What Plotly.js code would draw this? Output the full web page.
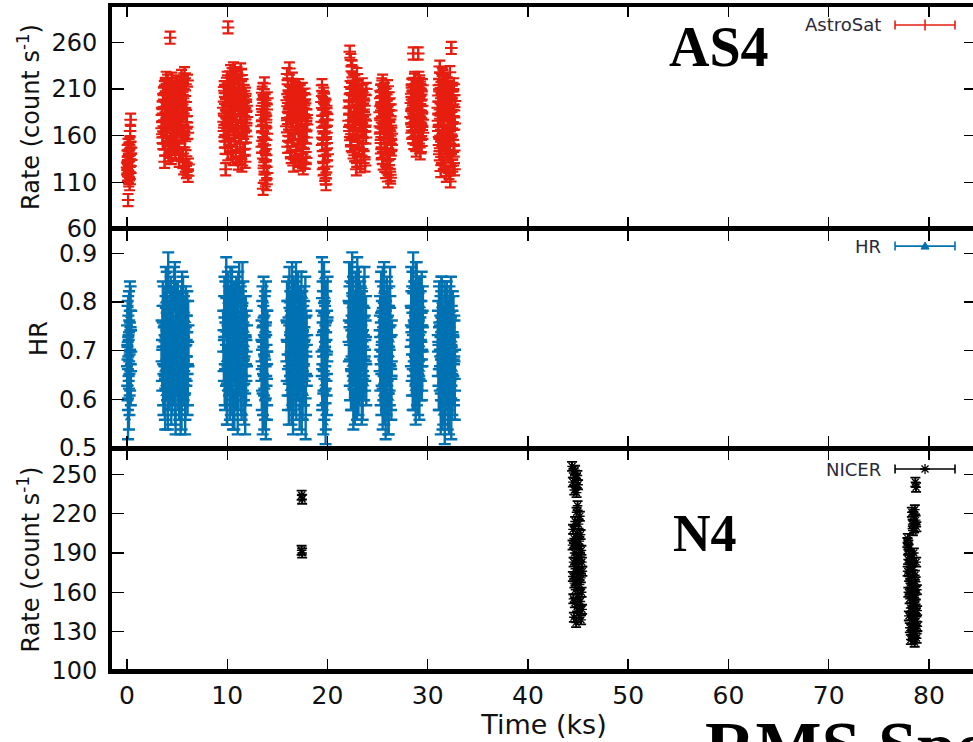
<!DOCTYPE html>
<html>
<head>
<meta charset="utf-8">
<script src="https://cdn.plot.ly/plotly-3.0.1.min.js"></script>
<style>html,body{margin:0;padding:0;overflow:hidden;background:#fff}#chart{width:1000px;height:742px}</style>
</head>
<body>
<div id="chart"></div>
<script>
// ---------------- DATA ----------------
// AstroSat light curve: time (ks), rate (count/s) and hardness ratio (two interleaved passes of bins)
const asTime = [
  0.00,0.04,0.07,0.10,0.13,0.17,0.20,0.24,0.27,0.31,0.36,0.40,
  3.45,3.51,3.57,3.63,3.69, 3.75,3.81,3.87,3.93,3.99, 4.05,4.11,4.17,4.23,4.30, 4.36,4.42,4.48,4.54,4.60,
  4.66,4.72,4.78,4.84,4.90, 4.96,5.02,5.08,5.14,5.20, 5.26,5.32,5.38,5.44,5.50, 5.56,5.62,5.68,5.74,5.80,
  5.86,5.92,5.98,6.04,6.10,
  9.60,9.66,9.72,9.78,9.84, 9.90,9.96,10.02,10.08,10.14, 10.20,10.26,10.32,10.38,10.44, 10.50,10.56,10.62,10.68,10.74,
  10.80,10.86,10.92,10.98,11.04, 11.10,11.16,11.22,11.28,11.34, 11.40,11.46,11.52,11.58,11.64, 11.70,11.76,11.82,11.88,11.94,
  13.40,13.44,13.49,13.53,13.58,13.62,13.67,13.71,13.76,13.80,13.85,13.89,13.94,13.98,
  15.90,15.96,16.02,16.08,16.14, 16.20,16.26,16.32,16.38,16.44, 16.50,16.56,16.62,16.68,16.74, 16.80,16.86,16.92,16.98,17.04,
  17.10,17.16,17.22,17.28,17.34, 17.40,17.46,17.52,17.58,17.64, 17.70,17.76,17.82,17.88,17.94,
  19.40,19.45,19.49,19.54,19.58,19.63,19.67,19.72,19.76,19.81,19.85,19.90,19.94,19.99,
  22.10,22.16,22.22,22.28,22.34, 22.40,22.46,22.52,22.58,22.64, 22.70,22.76,22.82,22.88,22.94,
  23.00,23.06,23.12,23.18,23.24, 23.30,23.36,23.42,23.48,23.54, 23.60,23.66,23.72,23.78,23.84,
  25.20,25.25,25.30,25.35,25.40, 25.45,25.50,25.55,25.60,25.65, 25.70,25.75,25.80,25.85,25.90,
  25.95,26.00,26.05,26.10,26.15, 26.20,26.25,26.30,26.35,26.40,
  28.30,28.35,28.40,28.45,28.50, 28.55,28.60,28.65,28.70,28.75, 28.80,28.85,28.90,28.95,29.00,
  29.05,29.10,29.15,29.20,29.25, 29.30,29.35,29.40,29.45,29.50,
  31.00,31.05,31.10,31.15,31.20, 31.25,31.30,31.35,31.40,31.45, 31.50,31.55,31.60,31.65,31.70,
  31.75,31.80,31.85,31.90,31.95, 32.00,32.05,32.10,32.15,32.20, 32.25,32.30,32.35,32.40,32.45,
  32.50,32.55,32.60,32.65,32.70,
  // second pass
  0.02,0.05,0.09,0.12,0.15,0.19,0.22,0.26,0.29,0.33,0.38,0.42,
  3.48,3.54,3.60,3.66,3.72, 3.78,3.84,3.90,3.96,4.02, 4.08,4.14,4.20,4.26,4.33, 4.39,4.45,4.51,4.57,4.63,
  4.69,4.75,4.81,4.87,4.93, 4.99,5.05,5.11,5.17,5.23, 5.29,5.35,5.41,5.47,5.53, 5.59,5.65,5.71,5.77,5.83,
  5.89,5.95,6.01,6.07,6.13,
  9.63,9.69,9.75,9.81,9.87, 9.93,9.99,10.05,10.11,10.17, 10.23,10.29,10.35,10.41,10.47, 10.53,10.59,10.65,10.71,10.77,
  10.83,10.89,10.95,11.01,11.07, 11.13,11.19,11.25,11.31,11.37, 11.43,11.49,11.55,11.61,11.67, 11.73,11.79,11.85,11.91,11.97,
  13.42,13.47,13.51,13.56,13.60,13.65,13.69,13.74,13.78,13.83,13.87,13.92,13.96,14.00,
  15.93,15.99,16.05,16.11,16.17, 16.23,16.29,16.35,16.41,16.47, 16.53,16.59,16.65,16.71,16.77, 16.83,16.89,16.95,17.01,17.07,
  17.13,17.19,17.25,17.31,17.37, 17.43,17.49,17.55,17.61,17.67, 17.73,17.79,17.85,17.91,17.97,
  19.42,19.47,19.51,19.56,19.60,19.65,19.69,19.74,19.78,19.83,19.87,19.92,19.96,20.01,
  22.13,22.19,22.25,22.31,22.37, 22.43,22.49,22.55,22.61,22.67, 22.73,22.79,22.85,22.91,22.97,
  23.03,23.09,23.15,23.21,23.27, 23.33,23.39,23.45,23.51,23.57, 23.63,23.69,23.75,23.81,23.87,
  25.22,25.27,25.32,25.37,25.42, 25.47,25.52,25.57,25.62,25.67, 25.72,25.77,25.82,25.87,25.92,
  25.97,26.02,26.07,26.12,26.17, 26.22,26.27,26.32,26.37,26.42,
  28.32,28.37,28.42,28.47,28.52, 28.57,28.62,28.67,28.72,28.77, 28.82,28.87,28.92,28.97,29.02,
  29.07,29.12,29.17,29.22,29.27, 29.32,29.37,29.42,29.47,29.52,
  31.02,31.07,31.12,31.17,31.22, 31.27,31.32,31.37,31.42,31.47, 31.52,31.57,31.62,31.67,31.72,
  31.77,31.82,31.87,31.92,31.97, 32.02,32.07,32.12,32.17,32.22, 32.27,32.32,32.37,32.42,32.47,
  32.52,32.57,32.62,32.67,32.72
];
const asRate = [
  126,118,144,91,134,112,150,121,139,165,177,147,
  168,190,152,205,176, 132,214,185,160,198, 219,172,148,207,265, 188,136,221,163,195,
  178,212,155,200,183, 146,216,169,192,133, 205,177,158,224,186, 141,210,165,227,128,
  196,121,174,219,117,
  190,165,208,147,124, 199,178,218,276,157, 203,186,229,142,211, 172,195,232,160,183,
  215,138,200,227,168, 130,209,187,152,231, 176,128,198,214,163, 188,146,205,171,192,
  182,148,206,165,103,195,128,216,156,112,174,139,188,120,
  170,226,148,195,184, 232,159,206,137,190, 221,176,128,200,163, 211,145,186,170,203,
  133,193,156,208,178, 141,197,166,125,189, 152,204,173,136,182,
  196,214,158,181,132,205,170,118,190,145,108,163,127,177,
  176,198,250,155,241, 210,234,168,219,186, 139,202,175,124,226,
  160,193,147,208,181, 131,199,166,215,152, 188,137,204,171,158,
  185,162,208,141,196, 174,219,130,190,157, 205,168,121,199,182,
  146,213,111,176,193, 135,160,115,187,150,
  180,205,163,215,190, 248,152,200,222,171, 195,144,210,183,160,
  248,199,175,218,141, 187,204,166,192,177,
  190,165,214,140,234, 178,122,200,155,226, 186,131,208,170,147,
  219,193,117,161,205, 176,138,212,184,150, 111,197,254,168,207,
  128,181,215,144,173,
  // second pass
  131,123,150,138,116,145,128,108,153,120,141,134,
  182,158,197,170,212, 145,189,222,166,203, 178,139,194,215,157, 201,174,150,210,186,
  168,198,141,218,176, 160,207,188,147,196, 172,213,139,184,162, 200,125,190,154,215,
  138,181,124,163,129,
  175,212,154,194,180, 161,222,140,206,187, 170,215,150,198,226, 181,135,210,190,164,
  223,176,148,205,193, 218,158,183,136,201, 225,167,191,145,208, 174,132,196,159,180,
  170,192,142,210,158,125,185,150,198,134,177,108,162,200,
  198,179,215,160,207, 186,142,199,173,212, 155,194,181,208,138, 190,169,201,150,184,
  214,162,188,129,197, 176,210,147,183,165, 199,131,188,158,172,
  175,150,208,124,188,162,200,138,171,114,192,152,183,140,
  190,165,212,183,150, 229,197,142,206,174, 218,160,191,133,203,
  178,214,155,196,127, 187,209,145,180,200, 164,192,128,176,210,
  170,200,152,187,215, 136,179,195,163,210, 145,186,172,204,126,
  191,158,168,140,200, 181,118,171,145,162,
  195,172,214,186,158, 207,181,220,166,199, 150,212,189,170,205,
  180,222,158,194,174, 209,149,185,214,163,
  176,203,150,221,188, 160,211,137,195,170, 224,152,199,182,128,
  207,163,190,143,216, 172,198,120,186,228, 158,203,134,192,166,
  210,149,187,124,197
];
const asHR = [
  0.71,0.64,0.76,0.56,0.73,0.68,0.78,0.61,0.74,0.66,0.79,0.70,
  0.72,0.66,0.80,0.61,0.75, 0.69,0.58,0.83,0.70,0.64, 0.77,0.86,0.62,0.73,0.68, 0.81,0.59,0.74,0.67,0.79,
  0.63,0.71,0.84,0.57,0.76, 0.69,0.65,0.80,0.72,0.60, 0.78,0.66,0.74,0.58,0.82, 0.69,0.63,0.77,0.71,0.57,
  0.79,0.67,0.73,0.61,0.76,
  0.74,0.68,0.81,0.62,0.77, 0.85,0.59,0.71,0.66,0.79, 0.73,0.60,0.83,0.69,0.64, 0.76,0.58,0.72,0.80,0.67,
  0.74,0.62,0.78,0.70,0.57, 0.82,0.65,0.73,0.68,0.79, 0.61,0.75,0.84,0.66,0.71, 0.59,0.77,0.69,0.63,0.74,
  0.68,0.62,0.76,0.57,0.71,0.81,0.65,0.73,0.60,0.78,0.56,0.69,0.74,0.63,
  0.72,0.80,0.65,0.76,0.59, 0.83,0.69,0.74,0.62,0.78, 0.70,0.57,0.81,0.67,0.75, 0.61,0.84,0.71,0.64,0.79,
  0.68,0.73,0.58,0.77,0.66, 0.82,0.70,0.60,0.75,0.63, 0.79,0.69,0.56,0.74,0.67,
  0.74,0.85,0.63,0.78,0.57,0.70,0.82,0.66,0.75,0.55,0.80,0.68,0.61,0.72,
  0.76,0.84,0.67,0.80,0.62, 0.73,0.86,0.69,0.58,0.78, 0.71,0.65,0.82,0.74,0.60,
  0.77,0.68,0.83,0.63,0.72, 0.79,0.66,0.59,0.75,0.70, 0.81,0.64,0.73,0.68,0.77,
  0.70,0.77,0.63,0.82,0.67, 0.74,0.58,0.79,0.69,0.84, 0.65,0.72,0.56,0.76,0.61,
  0.80,0.68,0.73,0.57,0.75, 0.66,0.83,0.71,0.62,0.69,
  0.75,0.83,0.68,0.79,0.62, 0.86,0.72,0.65,0.80,0.70, 0.59,0.77,0.84,0.67,0.73,
  0.61,0.81,0.69,0.76,0.64, 0.78,0.71,0.82,0.66,0.74,
  0.69,0.76,0.62,0.80,0.66, 0.73,0.57,0.78,0.81,0.64, 0.71,0.59,0.75,0.68,0.55,
  0.79,0.63,0.72,0.80,0.67, 0.58,0.74,0.70,0.62,0.77, 0.66,0.72,0.56,0.75,0.61,
  0.78,0.69,0.64,0.73,0.60,
  // second pass
  0.67,0.75,0.62,0.77,0.69,0.58,0.72,0.65,0.80,0.70,0.63,0.74,
  0.68,0.75,0.63,0.79,0.71, 0.60,0.77,0.66,0.82,0.73, 0.58,0.70,0.76,0.64,0.80, 0.69,0.74,0.61,0.78,0.67,
  0.83,0.72,0.59,0.75,0.65, 0.80,0.70,0.62,0.77,0.68, 0.74,0.57,0.79,0.66,0.72, 0.81,0.64,0.70,0.76,0.60,
  0.73,0.68,0.78,0.63,0.71,
  0.70,0.77,0.63,0.80,0.67, 0.74,0.59,0.82,0.71,0.65, 0.78,0.69,0.61,0.75,0.83, 0.66,0.72,0.79,0.58,0.73,
  0.68,0.81,0.64,0.76,0.70, 0.62,0.84,0.72,0.67,0.78, 0.60,0.75,0.69,0.80,0.64, 0.73,0.57,0.77,0.68,0.71,
  0.72,0.66,0.79,0.61,0.75,0.69,0.58,0.77,0.64,0.71,0.80,0.67,0.60,0.74,
  0.68,0.76,0.62,0.81,0.71, 0.65,0.78,0.73,0.59,0.84, 0.70,0.63,0.77,0.67,0.80, 0.72,0.60,0.75,0.69,0.82,
  0.64,0.74,0.79,0.66,0.71, 0.57,0.78,0.70,0.63,0.76, 0.68,0.81,0.61,0.73,0.69,
  0.69,0.62,0.80,0.73,0.66,0.84,0.60,0.76,0.71,0.58,0.78,0.65,0.74,0.81,
  0.72,0.79,0.64,0.84,0.70, 0.62,0.77,0.81,0.67,0.74, 0.59,0.78,0.70,0.65,0.85,
  0.73,0.61,0.76,0.68,0.80, 0.64,0.71,0.78,0.60,0.75, 0.69,0.83,0.66,0.72,0.63,
  0.73,0.66,0.80,0.61,0.76, 0.70,0.83,0.64,0.72,0.59, 0.78,0.68,0.74,0.62,0.81,
  0.67,0.75,0.57,0.71,0.79, 0.63,0.77,0.69,0.60,0.72,
  0.71,0.78,0.65,0.82,0.69, 0.75,0.62,0.80,0.73,0.67, 0.84,0.70,0.63,0.77,0.66,
  0.79,0.72,0.60,0.74,0.81, 0.68,0.76,0.64,0.71,0.79,
  0.74,0.67,0.79,0.62,0.71, 0.77,0.64,0.81,0.69,0.58, 0.75,0.70,0.66,0.80,0.73,
  0.61,0.78,0.68,0.72,0.63, 0.76,0.70,0.57,0.79,0.65, 0.73,0.81,0.67,0.60,0.74,
  0.69,0.77,0.63,0.72,0.66
];
// NICER light curve: time (ks) and rate (count/s)
const niTime = [
  17.42,17.47,17.42,17.47,
  44.40,44.48,44.55,44.62,44.70,44.78,44.85,44.93,45.00,
  44.45,44.48,44.50,44.53,44.55,44.58,44.60,44.63,44.65,44.68,
  44.70,44.73,44.75,44.78,44.80,44.83,44.85,44.88,44.90,44.93,
  44.95,44.98,45.00,45.03,45.05,45.08,45.10,45.13,45.15,45.18,
  45.20,45.23,45.25,45.28,45.30,45.33,45.35,45.38,45.40,45.43,
  78.65,78.72,
  78.30,78.38,78.45,78.52,78.60,78.68,78.75,78.40,
  77.85,77.88,77.90,77.93,77.95,77.98,78.00,78.03,78.05,78.08,
  78.10,78.13,78.15,78.18,78.20,78.23,78.25,78.28,78.30,78.33,
  78.35,78.38,78.40,78.43,78.45,78.48,78.50,78.53,78.55,78.58,
  78.60,78.63,78.65,78.68,78.70,78.73,78.75,78.78,78.80,78.83,
  78.85,77.95,78.15,78.40,78.60
];
const niRate = [
  234,231,192,190,
  256,244,251,238,253,247,236,249,242,
  196,172,208,155,183,141,201,167,190,152,
  214,178,162,197,137,186,221,170,149,205,
  226,181,158,193,212,144,175,199,166,218,
  187,153,204,171,139,192,160,183,147,176,
  244,240,
  221,212,218,209,223,215,210,207,
  198,176,201,185,160,193,142,172,188,155,
  133,167,181,148,124,170,159,139,186,152,
  127,165,177,144,130,161,190,136,156,122,
  173,147,129,168,151,183,138,125,162,146,
  134,196,179,128,158
];
const xTicks = [0,10,20,30,40,50,60,70,80];
const rateTicksAS = [60,110,160,210,260];
const hrTicks = [0.5,0.6,0.7,0.8,0.9];
const rateTicksNI = [100,130,160,190,220,250];

// ---------------- STYLE ----------------
const RED = '#e61e10', BLUE = '#0072b2', BLACK = '#000000';
const FONT = 'DejaVu Sans, Arial, sans-serif';
const SERIF = 'Liberation Serif, Times New Roman, serif';

const traces = [
  {x: asTime, y: asRate, xaxis: 'x3', yaxis: 'y3', type: 'scatter', mode: 'markers',
   marker: {size: 9, color: RED, symbol: 'cross-thin-open', line: {color: RED, width: 2}},
   error_y: {type: 'constant', value: 6.5, color: RED, thickness: 2.2, width: 5.5},
   showlegend: false, hoverinfo: 'skip'},
  {x: asTime, y: asHR, xaxis: 'x2', yaxis: 'y2', type: 'scatter', mode: 'markers',
   marker: {size: 6, color: BLUE, symbol: 'triangle-up'},
   error_y: {type: 'constant', value: 0.042, color: BLUE, thickness: 2.4, width: 6},
   showlegend: false, hoverinfo: 'skip'},
  {x: niTime, y: niRate, xaxis: 'x', yaxis: 'y', type: 'scatter', mode: 'markers',
   marker: {size: 8, color: BLACK, symbol: 'asterisk-open', line: {color: BLACK, width: 1.4}},
   error_y: {type: 'constant', value: 3.5, color: BLACK, thickness: 1.8, width: 5},
   showlegend: false, hoverinfo: 'skip'}
];

const baseAxis = {
  showline: true, linecolor: BLACK, linewidth: 4, mirror: 'ticks',
  ticks: 'inside', ticklen: 12, tickwidth: 1.5, tickcolor: BLACK,
  showgrid: false, zeroline: false,
  tickfont: {family: FONT, size: 24, color: '#111'}
};
const xRange = [-1.5, 84.7];
const xBase = Object.assign({}, baseAxis, {range: xRange, tickvals: xTicks, linewidth: 2.5});

const layout = {
  width: 1000, height: 742,
  margin: {l: 112, r: 24, t: 5, b: 71},
  paper_bgcolor: '#fff', plot_bgcolor: '#fff',
  showlegend: false,
  xaxis: Object.assign({}, xBase, {anchor: 'y', ticktext: xTicks.map(String), tickfont: {family: FONT, size: 25, color: '#111'},
    title: {text: 'Time (ks)', font: {family: FONT, size: 27, color: '#111'}, standoff: 6}}),
  xaxis2: Object.assign({}, xBase, {anchor: 'y2', matches: 'x', showticklabels: false}),
  xaxis3: Object.assign({}, xBase, {anchor: 'y3', matches: 'x', showticklabels: false}),
  yaxis: Object.assign({}, baseAxis, {domain: [0, 0.3348], range: [100, 270], tickvals: rateTicksNI,
    ticklabelstandoff: 6,
    title: {text: 'Rate (count s<sup>-1</sup>)', font: {family: FONT, size: 24, color: '#111'}, standoff: 6}}),
  yaxis2: Object.assign({}, baseAxis, {domain: [0.3348, 0.6637], range: [0.5, 0.95], tickvals: hrTicks,
    tickformat: '.1f', ticklabelstandoff: 6,
    title: {text: 'HR', font: {family: FONT, size: 24, color: '#111'}, standoff: 6}}),
  yaxis3: Object.assign({}, baseAxis, {domain: [0.6637, 1], range: [60, 300], tickvals: rateTicksAS,
    ticklabelstandoff: 6,
    title: {text: 'Rate (count s<sup>-1</sup>)', font: {family: FONT, size: 24, color: '#111'}, standoff: 6}}),
  annotations: [],
  shapes: [
    // heavier outer frame top & bottom
    {type: 'line', xref: 'paper', yref: 'paper', x0: 0, x1: 1, y0: 1, y1: 1, line: {color: BLACK, width: 4}},
    {type: 'line', xref: 'paper', yref: 'paper', x0: 0, x1: 1, y0: 0, y1: 0, line: {color: BLACK, width: 4}}
  ]
};

// legend keys (gnuplot style), in paper coordinates
const keyX0 = 0.9063, keyX1 = 0.9757, keyMid = 0.941, keyTextX = 0.8924;
const keys = [
  {label: 'AstroSat', y: 0.970, color: RED, mark: 'tick'},
  {label: 'HR', y: 0.638, color: BLUE, mark: 'tri'},
  {label: 'NICER', y: 0.3033, color: BLACK, mark: 'star'}
];
keys.forEach(k => {
  layout.annotations.push({xref: 'paper', yref: 'paper', x: keyTextX, y: k.y, xanchor: 'right', yanchor: 'middle',
    text: k.label, showarrow: false, font: {family: FONT, size: 18, color: '#2a2a3a'}});
  layout.shapes.push({type: 'line', xref: 'paper', yref: 'paper', x0: keyX0, x1: keyX1, y0: k.y, y1: k.y,
    line: {color: k.color, width: 1.6}});
  [keyX0, keyX1].forEach(xx => layout.shapes.push({type: 'line', xref: 'paper', yref: 'paper',
    ysizemode: 'pixel', yanchor: k.y, x0: xx, x1: xx, y0: -4.5, y1: 4.5, line: {color: k.color, width: 1.6}}));
  if (k.mark === 'tick') {
    layout.shapes.push({type: 'line', xref: 'paper', yref: 'paper', ysizemode: 'pixel', yanchor: k.y,
      x0: keyMid, x1: keyMid, y0: -5.5, y1: 5.5, line: {color: k.color, width: 1.6}});
  } else if (k.mark === 'tri') {
    layout.shapes.push({type: 'path', xref: 'paper', yref: 'paper', xsizemode: 'pixel', ysizemode: 'pixel',
      xanchor: keyMid, yanchor: k.y, path: 'M-4,-3L4,-3L0,4Z', fillcolor: k.color, line: {color: k.color, width: 1}});
  } else {
    layout.shapes.push({type: 'path', xref: 'paper', yref: 'paper', xsizemode: 'pixel', ysizemode: 'pixel',
      xanchor: keyMid, yanchor: k.y, path: 'M-5,0L5,0M0,-5L0,5M-3.5,-3.5L3.5,3.5M-3.5,3.5L3.5,-3.5',
      line: {color: k.color, width: 1.3}});
  }
});

// panel labels
layout.annotations.push(
  {xref: 'paper', yref: 'paper', x: 0.7025, y: 0.937, xanchor: 'center', yanchor: 'middle', showarrow: false,
   text: '<b>AS4</b>', font: {family: SERIF, size: 56, color: '#000'}},
  {xref: 'paper', yref: 'paper', x: 0.6863, y: 0.207, xanchor: 'center', yanchor: 'middle', showarrow: false,
   text: '<b>N4</b>', font: {family: SERIF, size: 52, color: '#000'}},
  {xref: 'paper', yref: 'paper', x: 0.684, y: -0.053, xanchor: 'left', yanchor: 'top', showarrow: false,
   text: '<b>RMS Spectra</b>', font: {family: SERIF, size: 70, color: '#000'}}
);

Plotly.newPlot('chart', traces, layout, {staticPlot: true, displayModeBar: false});
</script>
</body>
</html>
